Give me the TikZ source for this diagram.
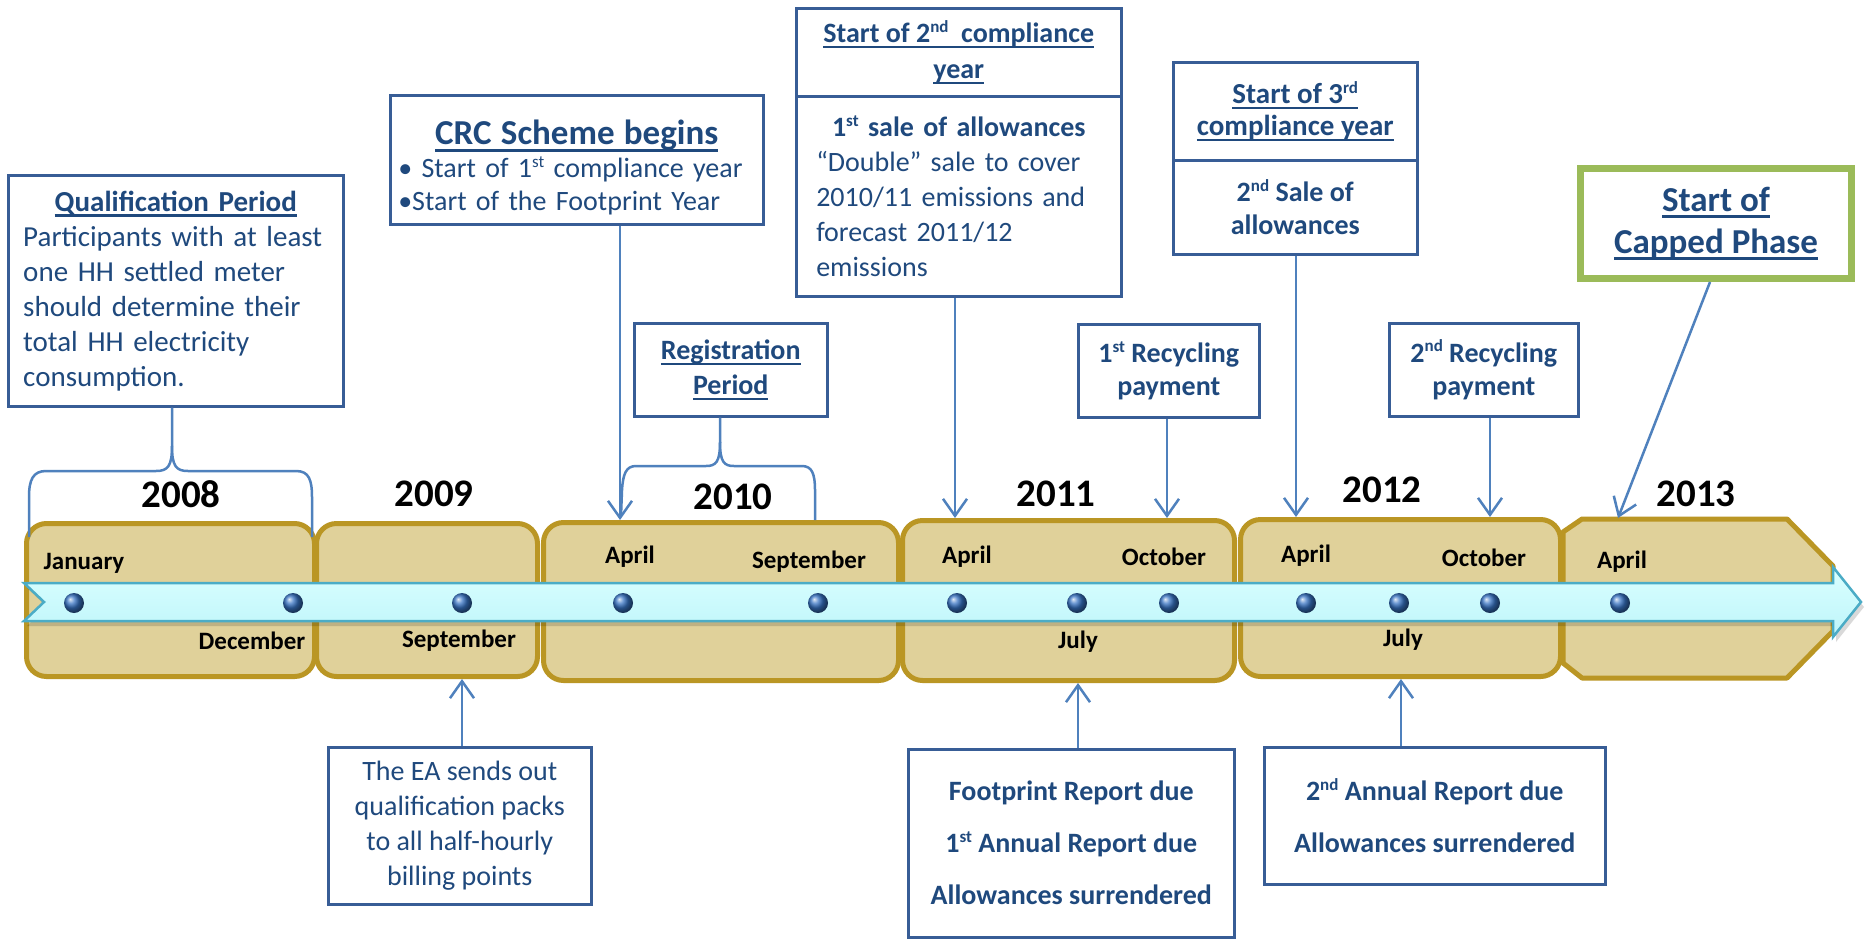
\documentclass[tikz,border=0pt]{standalone}
\usepackage{fontspec}
\setmainfont{Carlito}
\usetikzlibrary{arrows.meta,shadings}
\definecolor{boxline}{RGB}{56,93,150}
\definecolor{boxtext}{RGB}{31,73,125}
\definecolor{connc}{RGB}{79,129,189}
\definecolor{yearfill}{RGB}{224,209,154}
\definecolor{yearline}{RGB}{186,150,36}
\definecolor{ribtop}{RGB}{218,255,255}
\definecolor{ribbot}{RGB}{190,245,250}
\definecolor{ribline}{RGB}{75,172,198}
\definecolor{capgreen}{RGB}{155,187,89}
\definecolor{dotblue}{RGB}{55,115,195}
\newcommand{\myul}[1]{\setbox0=\hbox{#1}\rlap{\rule[-0.2em]{\wd0}{0.085em}}\box0}
\newcommand{\myfs}[2]{\fontsize{#1}{#2}\selectfont}
\newcommand{\mysup}[1]{\raisebox{0.36em}{\myfs{17}{17}#1}}
\tikzset{
  box/.style={draw=boxline, line width=2.5pt, fill=white, text=boxtext, inner sep=0pt, anchor=north west, font=\myfs{28}{35}},
  yearbox/.style={draw=yearline, line width=5pt, fill=yearfill, rounded corners=20pt, inner sep=0pt, anchor=north west},
  yearlbl/.style={font=\myfs{39}{39}\bfseries, text=black, inner sep=0pt},
  month/.style={font=\myfs{25}{25}\bfseries, text=black, inner sep=0pt},
  dot/.style={circle, minimum size=20pt, inner sep=0pt, shading=ball, ball color=dotblue},
  conn/.style={draw=connc, line width=2.5pt, -{Straight Barb[length=17pt,width=24pt]}},
  brace/.style={draw=connc, line width=2.5pt, line join=round},
}
\begin{document}
\begin{tikzpicture}[x=1pt,y=-1pt]
\useasboundingbox (0,0) rectangle (1865,943);
\fill[white] (0,0) rectangle (1865,943);

% year boxes
\node[yearbox, minimum width=288pt, minimum height=153pt] (y2008) at (24,521) {};
\node[yearbox, minimum width=221pt, minimum height=153pt] (y2009) at (314,521) {};
\node[yearbox, minimum width=355pt, minimum height=158pt] (y2010) at (541,520) {};
\node[yearbox, minimum width=332pt, minimum height=160pt] (y2011) at (900,518) {};
\node[yearbox, minimum width=320pt, minimum height=157pt] (y2012) at (1238,517) {};
\draw[yearline, line width=5pt, fill=yearfill, line join=round] (1563,532) -- (1582,519) -- (1787,519) -- (1833,566) -- (1833,631) -- (1787,678) -- (1582,678) -- (1563,663) -- cycle;
\coordinate (y2013top) at (1618,518);

% ribbon (shadow, then band)
\fill[black, opacity=0.15] (27,588) -- (1836,588) -- (1836,572) -- (1864,607) -- (1836,642) -- (1836,626) -- (27,626) -- (47,607) -- cycle;
\path[draw=ribline, line width=2.5pt, top color=ribtop, bottom color=ribbot, line join=miter]
  (24,583) -- (1833,583) -- (1833,567) -- (1861,602) -- (1833,637) -- (1833,621) -- (24,621) -- (44,602) -- cycle;

% dots
\foreach \n/\x in {d08a/74, d08b/293, d09/462, d10a/623, d10b/818, d11a/957, d11b/1077, d11c/1169, d12a/1306, d12b/1399, d12c/1490, d13/1620}
  \node[dot] (\n) at (\x,603) {};

% year labels
\node[yearlbl] (t2008) at (181,494) {2008};
\node[yearlbl] (t2009) at (434,494) {2009};
\node[yearlbl] (t2010) at (733,497) {2010};
\node[yearlbl] (t2011) at (1056,494) {2011};
\node[yearlbl] (t2012) at (1382,490) {2012};
\node[yearlbl] (t2013) at (1696,494) {2013};

% month labels
\node[month] (m1) at (84,563) {January};
\node[month] (m2) at (252,641) {December};
\node[month] (m3) at (459,641) {September};
\node[month] (m4) at (630,557) {April};
\node[month] (m5) at (809,562) {September};
\node[month] (m6) at (967,557) {April};
\node[month] (m7) at (1164,557) {October};
\node[month] (m8) at (1078,642) {July};
\node[month] (m9) at (1306,556) {April};
\node[month] (m10) at (1484,558) {October};
\node[month] (m11) at (1403,640) {July};
\node[month] (m12) at (1622,562) {April};

% text boxes
\node[box, text width=305pt, align=left, minimum width=335pt, minimum height=231pt, font=\myfs{29}{35}] (qual) at (7,174)
  {\makebox[\linewidth]{\bfseries\myul{Qualification Period}}\\ Participants with at least\\ one HH settled meter\\ should determine their\\ total HH electricity\\ consumption.};
\node[box, text width=357pt, align=left, minimum width=373pt, minimum height=129pt, font=\myfs{28}{33}] (crc) at (389,94)
  {\makebox[\linewidth]{\rule{0pt}{41pt}\myfs{35}{33}\bfseries\myul{CRC Scheme begins}}\\ \textbullet\ Start of 1\mysup{st} compliance year\\ \textbullet Start of the Footprint Year};
\node[box, minimum width=325pt, minimum height=88pt, align=center, font=\myfs{28}{36}\bfseries] (comp2top) at (795,7)
  {\myul{Start of 2\mysup{nd}\ \ compliance}\\\myul{year}};
\node[box, text width=285pt, align=left, minimum width=325pt, minimum height=200pt, font=\myfs{28}{35}] (comp2) at (795,95)
  {\makebox[\linewidth]{\bfseries 1\mysup{st} sale of allowances}\\ “Double” sale to cover\\ 2010/11 emissions and\\ forecast 2011/12\\ emissions};
\node[box, minimum width=244pt, minimum height=98pt, align=center, font=\myfs{29}{32}\bfseries] (comp3top) at (1172,61)
  {\myul{Start of 3\mysup{rd}}\\\myul{compliance year}};
\node[box, minimum width=244pt, minimum height=94pt, align=center, font=\myfs{28}{33}\bfseries] (comp3) at (1172,159)
  {2\mysup{nd} Sale of\\allowances};
\node[box, draw=capgreen, line width=7pt, minimum width=271pt, minimum height=110pt, align=center, font=\myfs{35}{42}\bfseries] (capped) at (1577,165)
  {\myul{Start of}\\\myul{Capped Phase}};
\node[box, minimum width=193pt, minimum height=93pt, align=center, font=\myfs{28}{35}\bfseries] (reg) at (633,322)
  {\myul{Registration}\\\myul{Period}};
\node[box, minimum width=181pt, minimum height=93pt, align=center, font=\myfs{28}{33}\bfseries] (rec1) at (1077,323)
  {1\mysup{st} Recycling\\payment};
\node[box, minimum width=189pt, minimum height=93pt, align=center, font=\myfs{28}{33}\bfseries] (rec2) at (1388,322)
  {2\mysup{nd} Recycling\\payment};
\node[box, minimum width=263pt, minimum height=157pt, align=center, font=\myfs{28}{35}] (ea) at (327,746)
  {The EA sends out\\qualification packs\\to all half-hourly\\billing points};
\node[box, minimum width=326pt, minimum height=188pt, align=center, font=\myfs{28}{52}\bfseries] (fp) at (907,748)
  {Footprint Report due\\1\mysup{st} Annual Report due\\Allowances surrendered};
\node[box, minimum width=341pt, minimum height=137pt, align=center, font=\myfs{28}{52}\bfseries] (an2) at (1263,746)
  {2\mysup{nd} Annual Report due\\Allowances surrendered};

% braces
\draw[brace] (qual.south -| 172,0) -- (172,446) .. controls (172,466) and (168,471) .. (156,471) -- (46,471) .. controls (33,471) and (29,480) .. (29,497) -- (29,537);
\draw[brace] (172,446) .. controls (172,466) and (176,471) .. (188,471) -- (296,471) .. controls (309,471) and (312,480) .. (312,497) -- (312,537);
\draw[brace] (reg.south -| 720,0) -- (720,442) .. controls (720,462) and (716,466) .. (706,466) -- (636,466) .. controls (626,466) and (623,474) .. (622,490) -- (621,516);
\draw[brace] (720,442) .. controls (720,462) and (724,466) .. (734,466) -- (802,466) .. controls (812,466) and (815,474) .. (815,490) -- (815,520);

% connectors
\draw[conn] (crc.south -| 620,0) -- (y2010.north -| 620,0);
\draw[conn] (comp2.south -| 955,0) -- (y2011.north -| 955,0);
\draw[conn] (rec1.south -| 1167,0) -- (y2011.north -| 1167,0);
\draw[conn] (comp3.south -| 1296,0) -- (y2012.north -| 1296,0);
\draw[conn] (rec2.south -| 1490,0) -- (y2012.north -| 1490,0);
\draw[conn] (capped.south -| 1710,0) -- (y2013top);
\draw[conn] (ea.north -| 462,0) -- (y2009.south -| 462,0);
\draw[conn] (fp.north -| 1078,0) -- (y2011.south -| 1078,0);
\draw[conn] (an2.north -| 1401,0) -- (y2012.south -| 1401,0);
\end{tikzpicture}
\end{document}
